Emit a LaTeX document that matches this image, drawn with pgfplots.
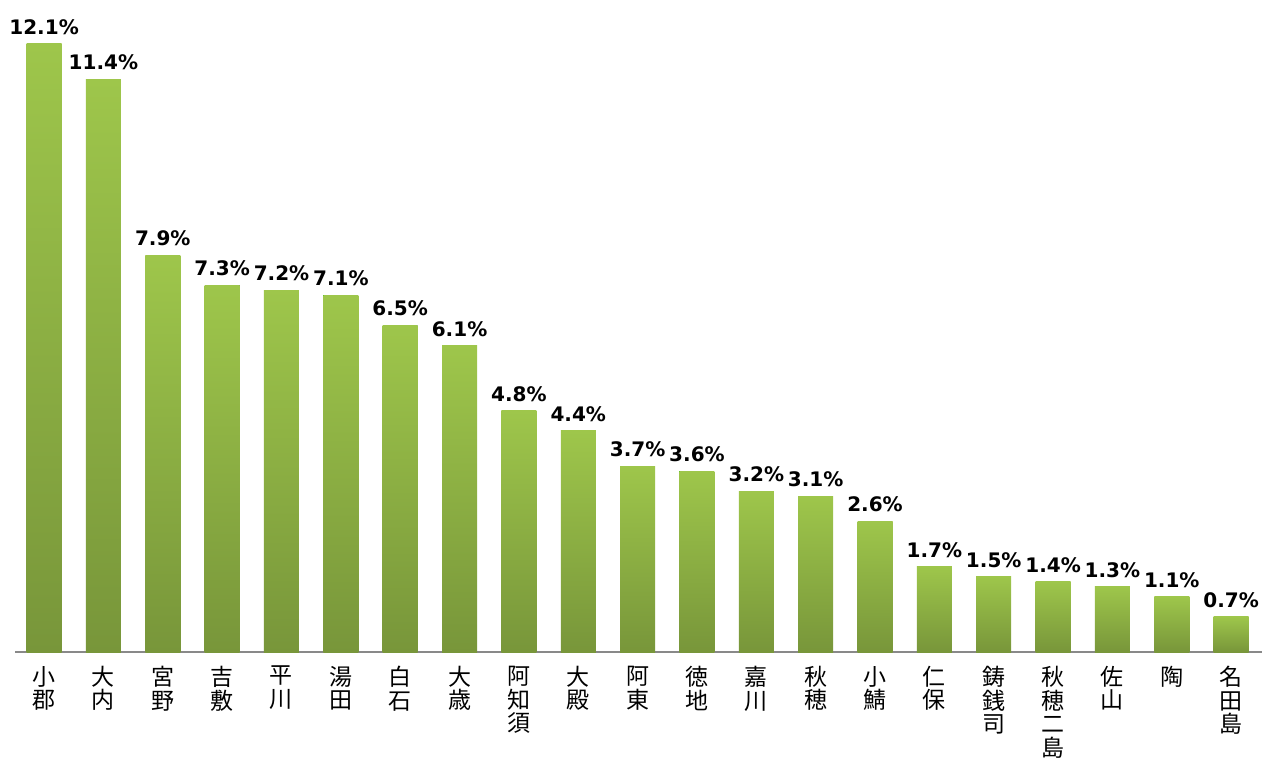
\documentclass[border=0pt]{standalone}
\usepackage{pgfplots}
\pgfplotsset{compat=1.18}
\usepackage{fontspec}
\setmainfont{DejaVu Sans}
\newfontfamily\cjk{Noto Sans CJK JP}
\definecolor{bartop}{RGB}{158,198,75}
\definecolor{barbot}{RGB}{120,150,58}
\definecolor{axisgray}{RGB}{137,137,137}
\begin{document}
\begin{tikzpicture}
\useasboundingbox (-15bp,-106bp) rectangle (1265bp,652bp);
\begin{axis}[
  at={(0,0)}, anchor=south west,
  scale only axis,
  width=1247bp, height=608bp,
  xmin=-0.49, xmax=20.52,
  ymin=0, ymax=12.1,
  axis x line=bottom,
  hide y axis,
  axis line style={draw=axisgray, line width=1.5bp, -},
  xtick={0,...,20},
  major tick length=0pt,
  xticklabels={{小\\郡},{大\\内},{宮\\野},{吉\\敷},{平\\川},{湯\\田},{白\\石},{大\\歳},{阿\\知\\須},{大\\殿},{阿\\東},{徳\\地},{嘉\\川},{秋\\穂},{小\\鯖},{仁\\保},{鋳\\銭\\司},{秋\\穂\\二\\島},{佐\\山},{陶},{名\\田\\島}},
  xticklabel style={font=\cjk\fontsize{23bp}{23.5bp}\selectfont, align=center, anchor=north, inner sep=0pt, yshift=-14bp},
  ybar,
  bar width=35bp,
  bar shift=0pt,
  clip=false,
  every axis plot/.append style={draw=none, top color=bartop, bottom color=barbot},
  nodes near coords={\pgfmathprintnumber[fixed,fixed zerofill,precision=1,assume math mode=true]{\pgfplotspointmeta}\%},
  nodes near coords style={font=\bfseries\fontsize{20bp}{22bp}\selectfont, anchor=south, inner sep=0pt, yshift=9bp, text=black},
]
\addplot coordinates {(0,12.1)};
\addplot coordinates {(1,11.4)};
\addplot coordinates {(2,7.9)};
\addplot coordinates {(3,7.3)};
\addplot coordinates {(4,7.2)};
\addplot coordinates {(5,7.1)};
\addplot coordinates {(6,6.5)};
\addplot coordinates {(7,6.1)};
\addplot coordinates {(8,4.8)};
\addplot coordinates {(9,4.4)};
\addplot coordinates {(10,3.7)};
\addplot coordinates {(11,3.6)};
\addplot coordinates {(12,3.2)};
\addplot coordinates {(13,3.1)};
\addplot coordinates {(14,2.6)};
\addplot coordinates {(15,1.7)};
\addplot coordinates {(16,1.5)};
\addplot coordinates {(17,1.4)};
\addplot coordinates {(18,1.3)};
\addplot coordinates {(19,1.1)};
\addplot coordinates {(20,0.7)};
\end{axis}
\end{tikzpicture}
\end{document}
